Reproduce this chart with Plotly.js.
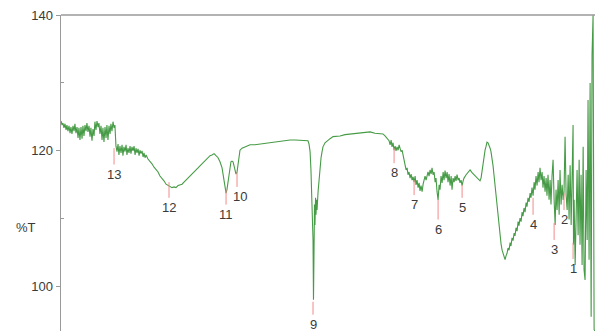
<!DOCTYPE html>
<html>
<head>
<meta charset="utf-8">
<script src="https://cdn.plot.ly/plotly-3.0.1.min.js"></script>
<style>html,body{margin:0;padding:0;background:#fff;overflow:hidden;}#chart{width:597px;height:331px;}</style>
</head>
<body>
<div id="chart"></div>
<script>
// Wavenumber (cm-1) and transmittance (%T)
const wavenumber = [4000,3993,3987,3980,3973,3966,3960,3953,3946,3939,3933,3926,3919,3912,3906,3899,3892,3885,3879,3872,3865,3858,3852,3845,3838,3831,3825,3818,3811,3804,3798,3791,3784,3777,3771,3764,3757,3750,3744,3737,3730,3723,3717,3710,3703,3696,3690,3683,3676,3669,3663,3656,3649,3642,3636,
3629,3622,3615,3609,3602,3595,3588,3582,3575,3568,3561,3555,3548,3541,3534,3528,3521,3514,3507,3500,3494,3487,3480,3473,3467,3460,3453,3446,3440,3433,3426,3413,3399,
3386,3372,3359,3345,3332,3318,3305,3291,3278,3264,3251,3237,3224,3210,3197,3183,3170,3156,3143,3129,3116,3102,3089,3075,3062,3048,3035,3021,3008,2994,2981,2967,2954,2940,2927,2913,2900,2893,2886,2880,2873,2866,2859,2853,2846,2839,2832,2826,2819,2812,2805,2799,2792,2778,2758,2724,2691,2657,2623,2589,2556,2522,2488,2454,2421,2387,2353,2333,2326,2319,2313,2306,2299,2296,2292,2289,2286,2282,2279,2275,2272,2265,2259,2252,2245,2238,2232,2218,2198,2184,2164,2144,2117,2083,2049,2016,1982,1948,1914,1881,1847,1827,1813,1800,1786,1779,1772,1766,1759,1752,1745,1739,1732,1725,1718,1712,1705,1698,1691,1685,1678,1671,1664,1658,1651,1644,1637,1631,1624,1617,1610,1604,1597,1590,1583,1577,1570,1563,1556,1550,1543,1536,1529,1523,1516,1509,1502,1496,1489,1482,1475,1469,1462,1455,1448,1442,1435,1428,1421,1415,1408,1401,1394,1388,1381,1374,1367,1361,1354,1347,1340,1334,1327,1320,1313,1307,1300,1293,1286,1280,1266,1253,1239,1226,1212,1199,1185,1172,1165,1158,1152,1145,1138,1131,1125,1118,1111,1104,1098,1091,1084,1077,1071,1064,1057,1050,1044,1037,1030,1023,1017,1010,1003,996,990,983,976,969,963,956,949,942,936,929,922,915,909,902,895,888,882,875,868,861,855,848,841,834,828,821,814,807,801,794,787,780,774,767,760,753,747,740,733,726,720,713,706,699,693,686,679,672,665,659,652,645,638,632,625,618,611,605,598,591,584,577,571,564,557,551,544,541,537,530,524,517,510,503,497,490,483,476,470,463,456,449,443,436,429,422,416,409,402,396];
const transmittance = [124.4,123.8,124.1,123.4,124.0,123.1,123.8,122.9,123.7,122.6,123.5,122.5,123.7,122.9,124.0,122.6,123.5,121.9,123.4,121.6,123.5,121.8,123.7,122.2,123.8,122.9,124.1,122.8,123.7,122.1,123.4,121.5,123.2,122.2,124.3,123.1,124.4,123.5,124.1,122.5,123.7,121.6,123.4,121.3,123.5,121.9,123.8,121.6,123.7,122.5,124.0,122.9,124.3,123.4,123.8,
120.7,119.9,121.0,119.4,120.7,119.7,120.9,119.3,120.6,119.9,120.9,119.4,120.4,119.7,120.7,119.6,120.6,120.0,120.7,119.4,120.4,119.7,120.3,119.3,120.1,119.6,120.0,119.1,119.7,119.0,119.4,118.8,118.5,
118.1,117.6,117.2,116.9,116.3,116.0,115.6,115.1,114.9,114.7,114.6,114.7,114.6,114.9,115.0,115.1,115.4,115.7,116.0,116.2,116.5,116.9,117.2,117.5,117.8,118.1,118.4,118.7,119.0,119.3,119.4,119.6,119.3,119.0,118.4,117.5,115.7,114.6,113.8,114.3,115.4,116.9,117.8,118.4,118.5,118.4,117.8,117.2,116.6,116.9,118.4,119.6,120.1,120.4,120.6,120.9,120.9,121.0,121.2,121.3,121.3,121.5,121.5,121.6,121.6,121.6,121.6,121.5,121.0,119.9,117.2,112.8,106.9,98.1,104.0,112.1,109.1,113.1,110.6,112.8,111.3,114.0,115.7,117.5,119.0,119.9,120.6,121.2,121.6,121.8,122.1,122.1,122.2,122.4,122.5,122.6,122.6,122.8,122.8,122.6,122.6,122.5,122.2,121.9,121.5,120.9,121.6,120.6,121.2,120.1,120.7,120.0,120.6,120.1,120.9,120.4,119.9,120.1,119.3,118.7,117.9,117.2,117.5,116.5,116.9,116.0,116.6,115.7,116.2,115.4,116.3,115.0,115.7,114.6,115.3,114.1,114.9,114.0,115.1,115.7,116.3,115.7,116.5,116.9,116.3,117.2,116.6,117.5,116.5,116.9,115.4,116.0,114.0,112.8,115.0,114.3,116.3,115.3,116.9,115.7,117.1,116.0,116.9,115.4,116.6,114.9,116.3,114.3,116.0,115.4,116.3,115.6,116.5,115.7,116.0,115.3,115.7,114.9,115.6,116.0,116.5,116.9,117.2,116.8,116.5,116.2,115.9,115.6,116.0,117.2,118.4,119.4,120.1,120.7,121.3,121.2,120.9,120.4,119.9,119.0,117.8,116.3,114.9,113.4,111.9,110.4,109.0,107.5,106.3,105.4,104.9,104.3,104.0,104.6,104.9,105.7,105.4,106.5,106.0,107.2,106.8,107.9,107.5,108.7,108.2,109.6,109.0,110.1,109.6,111.0,110.4,111.6,111.0,112.4,111.8,113.1,112.5,113.8,113.1,114.6,113.4,115.4,114.3,116.3,114.9,116.9,115.4,117.5,115.7,116.9,114.6,116.3,114.0,116.0,113.4,116.5,112.8,115.7,112.1,116.3,118.7,112.8,109.1,114.3,111.3,115.7,110.6,117.2,112.1,115.0,112.8,114.0,122.1,113.5,111.3,116.5,109.9,117.9,109.1,115.7,123.8,106.2,112.8,103.2,112.8,117.2,107.6,118.7,106.2,116.5,103.2,120.6,102.5,101.0,117.2,106.9,127.5,104.0,130.0,95.6,134.1,140.0,93.7,93.5];

// Peak markers
const peakLabels = ['1','2','3','4','5','6','7','8','9','10','11','12','13'];
const peakWn     = [544,605,672,814,1293,1455,1617,1752,2299,2812,2886,3271,3642];
const peakTop    = [106.5,113.8,109.4,113.1,115.0,112.8,115.7,120.4,97.8,116.9,114.3,115.4,120.4];
const peakBot    = [104.1,111.3,106.9,110.6,113.1,109.9,113.5,118.2,95.9,114.7,112.1,113.1,118.0];

const yTickVals = [100,120,140];
const yTickText = ['100','120','140'];
const yMinorVals = [110,130];

const labelFont = {family:'Liberation Sans, Arial, sans-serif',size:13,color:'#3a3a3a'};

const shapes = peakWn.map((w,i)=>({type:'line',xref:'x',yref:'y',x0:w,x1:w,y0:peakTop[i],y1:peakBot[i],line:{color:'#f28a8a',width:1}}));
shapes.push({type:'line',xref:'paper',yref:'paper',x0:0,x1:1,y0:1,y1:1,line:{color:'#9a9a9a',width:1.5}});

const annotations = peakWn.map((w,i)=>({x:w,y:peakBot[i],xref:'x',yref:'y',text:peakLabels[i],showarrow:false,xanchor:'center',yanchor:'top',xshift:(peakLabels[i]==='10'?3:0),font:labelFont}));
annotations.push({x:-0.088,y:108.8,xref:'paper',yref:'y',text:'%T',showarrow:false,xanchor:'left',yanchor:'middle',font:labelFont});

const trace = {x:wavenumber,y:transmittance,type:'scatter',mode:'lines',line:{color:'rgb(70,155,70)',width:1.1},hoverinfo:'skip'};

const layout = {
  width:597,height:331,
  margin:{l:61,r:2,t:15,b:0},
  paper_bgcolor:'#fff',plot_bgcolor:'#fff',
  showlegend:false,
  xaxis:{range:[4000,396],showgrid:false,zeroline:false,showline:false,showticklabels:false,ticks:''},
  yaxis:{range:[93.5,140],showgrid:false,zeroline:false,showline:true,linecolor:'#9a9a9a',linewidth:1.5,
    tickmode:'array',tickvals:yTickVals,ticktext:yTickText,ticks:'outside',ticklen:4,tickcolor:'#9a9a9a',tickwidth:1,
    minor:{tickmode:'array',tickvals:yMinorVals,ticks:'inside',ticklen:3,tickcolor:'#9a9a9a',showgrid:false},
    tickfont:labelFont},
  shapes:shapes,annotations:annotations
};
Plotly.newPlot('chart',[trace],layout,{staticPlot:true,displayModeBar:false});
</script>
</body>
</html>
